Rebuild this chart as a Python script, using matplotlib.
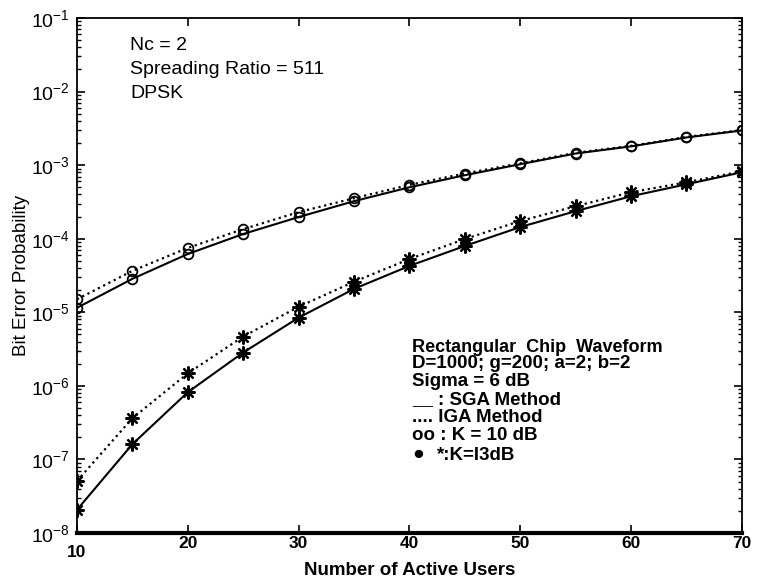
import numpy as np
import matplotlib
matplotlib.use("Agg")
import matplotlib.pyplot as plt
from matplotlib.ticker import LogLocator, NullFormatter
from matplotlib.transforms import ScaledTranslation

plt.rcParams['font.family'] = ['Liberation Sans', 'DejaVu Sans']
plt.rcParams['mathtext.fontset'] = 'custom'
plt.rcParams['mathtext.rm'] = 'Liberation Sans'
plt.rcParams['mathtext.bf'] = 'Liberation Sans:bold'

# number of active users
users = [10, 15, 20, 25, 30, 35, 40, 45, 50, 55, 60, 65, 70]

# K = 10 dB (circles)
k10_sga = [1.15e-5, 2.85e-5, 6.2e-5, 1.16e-4, 1.97e-4, 3.24e-4, 5.0e-4,
           7.3e-4, 1.03e-3, 1.44e-3, 1.8e-3, 2.38e-3, 2.96e-3]
k10_iga = [1.5e-5, 3.66e-5, 7.5e-5, 1.35e-4, 2.3e-4, 3.55e-4, 5.4e-4,
           7.7e-4, 1.06e-3, 1.47e-3, 1.83e-3, 2.42e-3, 3.0e-3]

# K = 13 dB (asterisks)
k13_sga = [2.07e-8, 1.61e-7, 8.2e-7, 2.84e-6, 8.45e-6, 2.08e-5, 4.27e-5,
           7.97e-5, 1.44e-4, 2.37e-4, 3.78e-4, 5.5e-4, 8.0e-4]
k13_iga = [5.1e-8, 3.63e-7, 1.48e-6, 4.68e-6, 1.19e-5, 2.6e-5, 5.3e-5,
           9.9e-5, 1.74e-4, 2.77e-4, 4.28e-4, 5.85e-4, 8.24e-4]

xticks = [10, 20, 30, 40, 50, 60, 70]
yticks = [1e-8, 1e-7, 1e-6, 1e-5, 1e-4, 1e-3, 1e-2, 1e-1]
ytick_labels = [r'$\mathregular{10^{-%d}}$' % n for n in range(8, 0, -1)]

fig = plt.figure(figsize=(7.57, 5.87), dpi=100)
ax = fig.add_axes([0.1017, 0.092, 0.8783, 0.8773])

ast = (8, 2, 0)
ax.plot(users, k10_sga, '-', color='k', lw=1.5, marker='o', ms=7,
        mfc='none', mec='k', mew=1.3)
ax.plot(users, k10_iga, ':', color='k', lw=1.6, marker='o', ms=7,
        mfc='none', mec='k', mew=1.3)
ax.plot(users, k13_sga, '-', color='k', lw=1.5, marker=ast, ms=10, mew=1.6)
ax.plot(users, k13_iga, ':', color='k', lw=1.6, marker=ast, ms=10, mew=1.6)

ax.set_yscale('log')
ax.set_xlim(10, 70)
ax.set_ylim(1e-8, 1e-1)

ax.set_xticks(xticks)
ax.set_xticklabels([str(v) for v in xticks], fontsize=12.5, fontweight='bold')
ax.set_yticks(yticks)
ax.set_yticklabels(ytick_labels, fontsize=14)
ax.yaxis.set_minor_locator(LogLocator(base=10, subs=np.arange(2, 10), numticks=20))
ax.yaxis.set_minor_formatter(NullFormatter())

ax.tick_params(which='both', direction='in', top=True, right=True, colors='k')
ax.tick_params(which='major', length=6, width=1.2, pad=5)
ax.tick_params(which='minor', length=3, width=1.0)
ax.tick_params(axis='x', which='major', pad=2)

# first x label sits a bit lower in the original
lab = ax.get_xticklabels()[0]
lab.set_transform(lab.get_transform() + ScaledTranslation(0, -7 / 72, fig.dpi_scale_trans))

for s in ['left', 'right', 'top']:
    ax.spines[s].set_linewidth(1.3)
ax.spines['bottom'].set_linewidth(3)

ax.set_xlabel('Number of Active Users', fontsize=13.5, fontweight='bold', labelpad=1)
ax.set_ylabel('Bit Error Probability', fontsize=13.5, labelpad=1)

def ftext(px, py, s, size=14, **kw):
    fig.text(px / 757, 1 - py / 587, s, va='center', ha='left', fontsize=size, **kw)

ftext(130, 45, 'Nc = 2')
ftext(130, 70, 'Spreading Ratio = 511')
ftext(130, 94, 'DPSK')

lines = ['Rectangular  Chip  Waveform',
         'D=1000; g=200; a=2; b=2',
         'Sigma = 6 dB',
         '__ : SGA Method',
         '.... IGA Method',
         'oo : K = 10 dB']
rows = [347, 364, 382, 400, 418, 435]
sizes = [13, 13.5, 13.5, 13.5, 13.5, 13.5]
for s, r, fs in zip(lines, rows, sizes):
    ftext(412, r, s, size=fs, fontweight='bold')
# last row: big dot then the asterisk entry
ftext(412, 455, '\u25cf', size=14)
ftext(437, 455, '*:K=l3dB', size=13.5, fontweight='bold')

fig.savefig('out.png', dpi=100)
